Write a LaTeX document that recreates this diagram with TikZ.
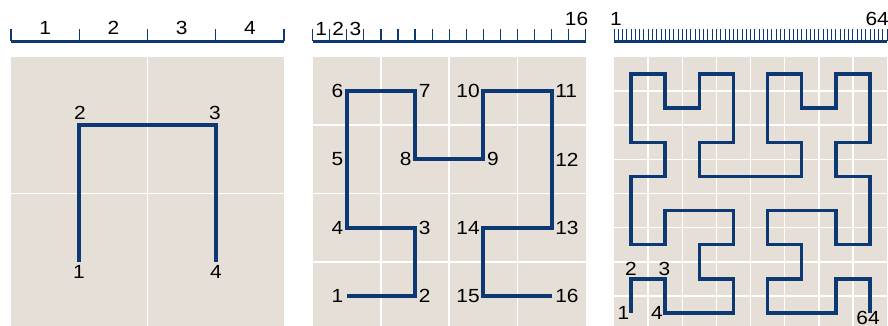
\documentclass[tikz,border=0pt]{standalone}
\usepackage{fontspec}
\setmainfont{Liberation Sans}[FakeStretch=1.1]
\definecolor{navy}{RGB}{12,56,116}
\definecolor{panelbg}{RGB}{229,223,216}
\newcommand\myruler[3]{% x0, n, tick width
  \pgfmathsetmacro\mystep{273/#2}
  \foreach \k in {0,...,#2}{
    \draw[draw=navy, line width=#3] ({#1+\k*\mystep},29.3) -- ({#1+\k*\mystep},41.5);
  }
  \draw[draw=navy, line width=3.3pt] (#1,41.5) -- ({#1+273},41.5);
}
\newcommand\mypanel[2]{% x0, n
  \fill[panelbg] (#1,57) rectangle ({#1+273},330);
  \pgfmathsetmacro\mycell{273/#2}
  \foreach \k in {1,...,\numexpr#2-1\relax}{
    \draw[draw=white, line width=1.5pt] ({#1+\k*\mycell},57) -- ({#1+\k*\mycell},330);
    \draw[draw=white, line width=1.5pt] (#1,{57+\k*\mycell}) -- ({#1+273},{57+\k*\mycell});
  }
}
\begin{document}
\begin{tikzpicture}[x=1pt,y=-1pt,
  lab/.style={font=\fontsize{19}{19}\selectfont, inner sep=0pt, text=black},
  curve/.style={draw=navy, line width=4pt, line join=miter, line cap=butt}]
\useasboundingbox (0,0) rectangle (888,326);
\clip (0,0) rectangle (888,326);

% ---------- rulers ----------
\myruler{11}{4}{1.3pt}
\myruler{312.7}{16}{1.2pt}
\myruler{614}{64}{0.8pt}

\node[lab, anchor=base] (r1a) at (45.1,35) {1};
\node[lab, anchor=base] (r1b) at (113.4,35) {2};
\node[lab, anchor=base] (r1c) at (181.6,35) {3};
\node[lab, anchor=base] (r1d) at (249.9,35) {4};

\node[lab, anchor=base] (r2a) at (321.2,36) {1};
\node[lab, anchor=base] (r2b) at (338.3,36) {2};
\node[lab, anchor=base] (r2c) at (355.4,36) {3};
\node[lab, anchor=base] (r2d) at (576.5,26) {16};

\node[lab, anchor=base] (r3a) at (616,26) {1};
\node[lab, anchor=base east] (r3b) at (889,26) {64};

% ---------- panels ----------
\mypanel{11}{2}
\mypanel{312.7}{4}
\mypanel{614}{8}

% ---------- panel 1 ----------
\coordinate (a1) at (79.25,261.75);
\coordinate (a2) at (79.25,125.25);
\coordinate (a3) at (215.75,125.25);
\coordinate (a4) at (215.75,261.75);
\draw[curve] (a1) -- (a2) -- (a3) -- (a4);
\node[lab, anchor=base] (la1) at (79,278.5) {1};
\node[lab, anchor=base] (la2) at (80,120) {2};
\node[lab, anchor=base] (la3) at (215,120) {3};
\node[lab, anchor=base] (la4) at (216,278.5) {4};

% ---------- panel 2 ----------
\foreach \k/\i/\j/\s in {1/0/0/-1, 2/1/0/1, 3/1/1/1, 4/0/1/-1,
    5/0/2/-1, 6/0/3/-1, 7/1/3/1, 8/1/2/-1,
    9/2/2/1, 10/2/3/-1, 11/3/3/1, 12/3/2/1,
    13/3/1/1, 14/2/1/-1, 15/2/0/-1, 16/3/0/1}{
  \coordinate (b\k) at ({312.7+(\i+0.5)*68.25},{330-(\j+0.5)*68.25});
  \ifnum\s>0
    \node[lab, anchor=west] (lb\k) at ([xshift=3.5pt]b\k) {\k};
  \else
    \node[lab, anchor=east] (lb\k) at ([xshift=-3.5pt]b\k) {\k};
  \fi
}
\draw[curve] (b1) \foreach \k in {2,...,16}{ -- (b\k)};

% ---------- panel 3 ----------
\foreach \k/\i/\j in {1/0/0, 2/0/1, 3/1/1, 4/1/0, 5/2/0, 6/3/0, 7/3/1, 8/2/1,
    9/2/2, 10/3/2, 11/3/3, 12/2/3, 13/1/3, 14/1/2, 15/0/2, 16/0/3,
    17/0/4, 18/1/4, 19/1/5, 20/0/5, 21/0/6, 22/0/7, 23/1/7, 24/1/6,
    25/2/6, 26/2/7, 27/3/7, 28/3/6, 29/3/5, 30/2/5, 31/2/4, 32/3/4,
    33/4/4, 34/5/4, 35/5/5, 36/4/5, 37/4/6, 38/4/7, 39/5/7, 40/5/6,
    41/6/6, 42/6/7, 43/7/7, 44/7/6, 45/7/5, 46/6/5, 47/6/4, 48/7/4,
    49/7/3, 50/7/2, 51/6/2, 52/6/3, 53/5/3, 54/4/3, 55/4/2, 56/5/2,
    57/5/1, 58/4/1, 59/4/0, 60/5/0, 61/6/0, 62/6/1, 63/7/1, 64/7/0}{
  \coordinate (c\k) at ({614+(\i+0.5)*34.125},{330-(\j+0.5)*34.125});
}
\draw[curve, line width=3.5pt] (c1) \foreach \k in {2,...,64}{ -- (c\k)};
\node[lab, anchor=base east] (lc1) at (629.5,319) {1};
\node[lab, anchor=base] (lc2) at (631,275.5) {2};
\node[lab, anchor=base] (lc3) at (664.5,275.5) {3};
\node[lab, anchor=base east] (lc4) at (663,319) {4};
\node[lab, anchor=north] (lc64) at (868,311.5) {64};
\end{tikzpicture}
\end{document}
